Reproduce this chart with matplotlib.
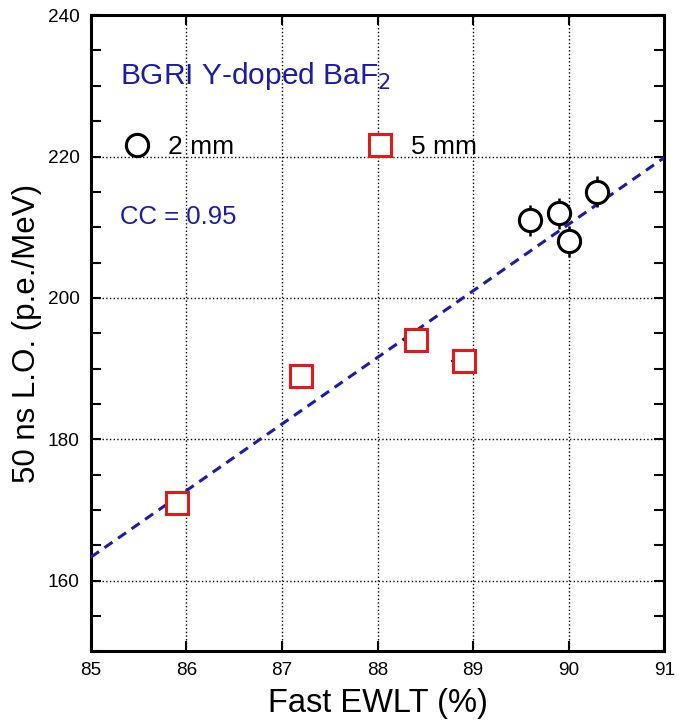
import numpy as np
import matplotlib
matplotlib.use("Agg")
import matplotlib.pyplot as plt
from matplotlib.lines import Line2D
from matplotlib.ticker import MultipleLocator

plt.rcParams['font.family'] = ['Liberation Sans', 'DejaVu Sans']

# Y-doped BaF2 samples: fast emission-weighted lifetime vs 50 ns light output
ewlt_2mm = [89.6, 89.9, 90.0, 90.3]
lo_2mm = [211, 212, 208, 215]
lo_err_2mm = [2.2, 2.2, 2.2, 2.2]

ewlt_5mm = [85.9, 87.2, 88.4, 88.9]
lo_5mm = [171, 189, 194, 191]
lo_err_5mm = [1.7, 1.7, 1.7, 1.7]
ewlt_err_5mm = [0.13, 0.13, 0.13, 0.13]

cc = 0.95
blue = '#1c1ca6'
red = '#e01a1a'

fig = plt.figure(figsize=(6.89, 7.22), dpi=100)
ax = fig.add_axes([0.132, 0.098, 0.832, 0.881])

# linear fit through all samples
x_all = np.array(ewlt_2mm + ewlt_5mm)
y_all = np.array(lo_2mm + lo_5mm)
k, b = np.polyfit(x_all, y_all, 1)
xf = np.array([85, 91])
ax.plot(xf, k * xf + b, ls=(0, (3.2, 2.2)), color=blue, lw=2.2, zorder=3)

ax.errorbar(ewlt_2mm, lo_2mm, yerr=lo_err_2mm, fmt='o', ms=16, mfc='white',
            mec='black', mew=2.2, ecolor='black', elinewidth=1.8, capsize=0,
            zorder=4)
ax.errorbar(ewlt_5mm, lo_5mm, yerr=lo_err_5mm, xerr=ewlt_err_5mm, fmt='s',
            ms=16, mfc='white', mec=red, mew=2.2, ecolor='#3a1010',
            elinewidth=1.5, capsize=0, zorder=4)

ax.set_xlim(85, 91)
ax.set_ylim(150, 240)
ax.xaxis.set_major_locator(MultipleLocator(1))
ax.yaxis.set_major_locator(MultipleLocator(20))
ax.yaxis.set_minor_locator(MultipleLocator(5))
ax.tick_params(which='both', direction='in', top=True, right=True,
               labelsize=13.7, pad=8, width=1.5)
ax.tick_params(which='major', length=7)
ax.tick_params(which='minor', length=7)
for s in ax.spines.values():
    s.set_linewidth(2.2)
ax.grid(True, which='major', ls=':', color='black', lw=1.0)

ax.set_xlabel('Fast EWLT (%)', fontsize=23.5, labelpad=6)
ax.set_ylabel('50 ns L.O. (p.e./MeV)', fontsize=22.5, labelpad=4)

ax.text(0.051, 0.905, 'BGRI Y-doped BaF$_2$', transform=ax.transAxes,
        color=blue, fontsize=21.5, va='center')
ax.text(0.051, 0.682, f'CC = {cc:.2f}', transform=ax.transAxes,
        color=blue, fontsize=18.5, va='center')

handles = [
    Line2D([], [], ls='none', marker='o', ms=16, mfc='white', mec='black', mew=2.2),
    Line2D([], [], ls='none', marker='s', ms=16, mfc='white', mec=red, mew=2.2),
]
ax.legend(handles, ['2 mm', '5 mm'], loc='center left',
          bbox_to_anchor=(0.0576, 0.792), ncol=2, frameon=False, fontsize=19,
          handlelength=1.0, handletextpad=0.68, columnspacing=5.0,
          borderpad=0, borderaxespad=0)

fig.savefig('out.png', dpi=100)
